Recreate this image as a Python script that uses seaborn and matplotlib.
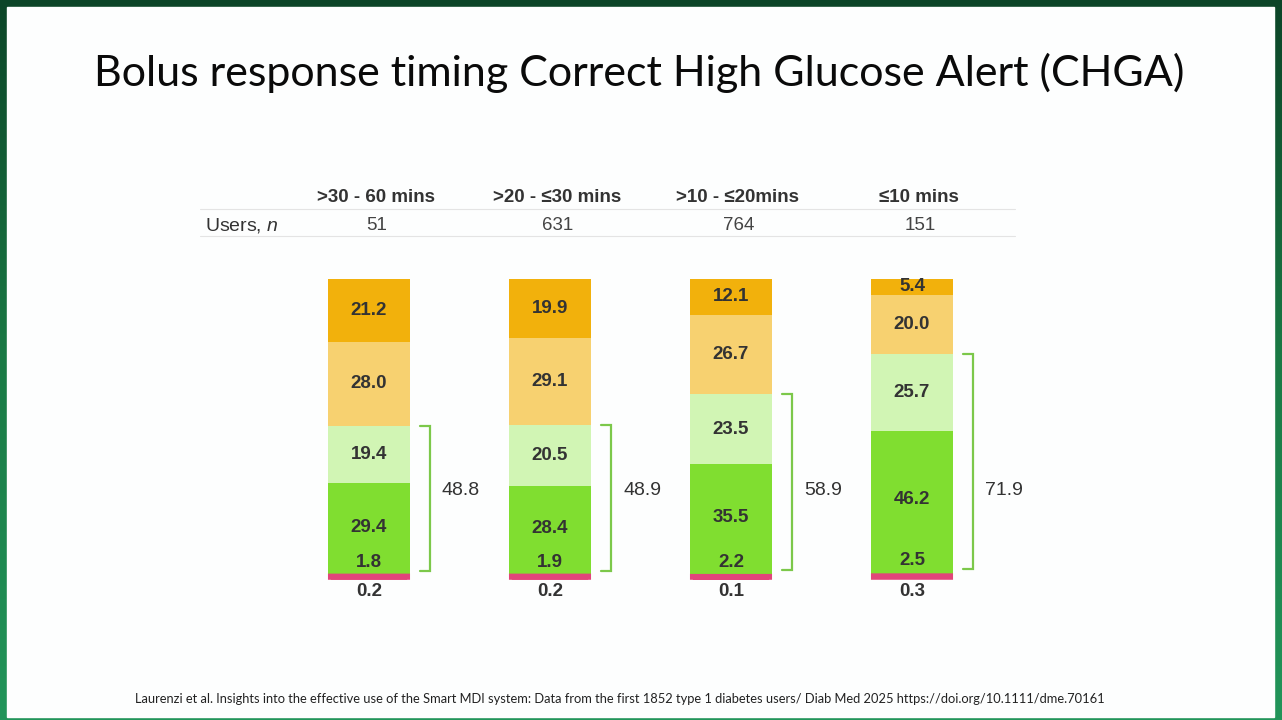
import numpy as np
import matplotlib
matplotlib.use("Agg")
import matplotlib.pyplot as plt
from matplotlib.patches import Rectangle
import seaborn as sns

# Data
groups = [">30 - 60 mins", ">20 - \u226430 mins", ">10 - \u226420mins", "\u226410 mins"]
users = [51, 631, 764, 151]

pct_pink = [0.2, 0.2, 0.1, 0.3]
pct_small = [1.8, 1.9, 2.2, 2.5]
pct_green = [29.4, 28.4, 35.5, 46.2]
pct_light_green = [19.4, 20.5, 23.5, 25.7]
pct_light_orange = [28.0, 29.1, 26.7, 20.0]
pct_orange = [21.2, 19.9, 12.1, 5.4]
bracket_vals = [48.8, 48.9, 58.9, 71.9]

seg_colors = ["#E2457A", "#80DE30", "#80DE30", "#D1F5B4", "#F7D170", "#F2B10C"]

sns.set_style("white")
plt.rcParams["font.family"] = ["Liberation Sans", "DejaVu Sans"]
plt.rcParams["mathtext.fontset"] = "custom"
plt.rcParams["mathtext.it"] = "Liberation Sans:italic"
plt.rcParams["mathtext.rm"] = "Liberation Sans"

W, H = 1282, 720
fig = plt.figure(figsize=(W / 100, H / 100), dpi=100)

# green slide border
bg = fig.add_axes([0, 0, 1, 1])
grad = np.linspace(0, 1, 256).reshape(-1, 1)
cmap = matplotlib.colors.LinearSegmentedColormap.from_list("g", ["#0C4528", "#1A7A45", "#22955A"])
bg.imshow(grad, aspect="auto", cmap=cmap, extent=[0, 1, 0, 1], origin="upper")
bg.add_patch(Rectangle((7 / W, 3 / H), (1274 - 7) / W, (713 - 3) / H, color="#FDFEFE"))
bg.set_xlim(0, 1)
bg.set_ylim(0, 1)
bg.axis("off")

fig.text(639 / W, 1 - 73 / H, "Bolus response timing Correct High Glucose Alert (CHGA)",
         family=["Lato", "DejaVu Sans"], fontsize=31, ha="center", va="center", color="#0A0A0A")
fig.text(620 / W, 1 - 699 / H,
         "Laurenzi et al. Insights into the effective use of the Smart MDI system: Data from the first 1852 type 1 diabetes users/ Diab Med 2025 https://doi.org/10.1111/dme.70161",
         family=["Lato", "DejaVu Sans"], fontsize=9.3, ha="center", va="center", color="#222222")

# chart area
ax = fig.add_axes([200 / W, (720 - 620) / H, 900 / W, 470 / H])
ax.set_facecolor("none")

stack = np.vstack([pct_pink, pct_small, pct_green, pct_light_green, pct_light_orange, pct_orange])
cum = stack.cumsum(axis=0)
bw = 82 / 181

for k in range(len(stack) - 1, 0, -1):
    sns.barplot(x=groups, y=cum[k], color=seg_colors[k], saturation=1, width=bw,
                errorbar=None, linewidth=0, ax=ax, zorder=2)
sns.barplot(x=groups, y=cum[0], color=seg_colors[0], saturation=1, width=bw - 5.5 / 181,
            errorbar=None, edgecolor=seg_colors[0], linewidth=4, snap=False, ax=ax, zorder=3)

txt = dict(ha="center", va="center", fontsize=13.5, fontweight="bold", color="#333333")
for i in range(len(groups)):
    for k in range(2, len(stack)):
        ax.text(i, cum[k][i] - stack[k][i] / 2, f"{stack[k][i]:.1f}", **txt)
    ax.text(i, cum[1][i] + 2.7, f"{stack[1][i]:.1f}", **txt)
    ax.text(i, -5, f"{stack[0][i]:.1f}", **txt)

    # bracket over green + light green
    lo, hi = cum[1][i], cum[3][i]
    x0, x1 = i + 51 / 181, i + 61 / 181
    ax.plot([x0, x1, x1, x0], [hi, hi, lo, lo], color="#7CC84A", lw=1.6, zorder=2,
            solid_joinstyle="miter")
    ax.text(i + 92 / 181, 29, f"{bracket_vals[i]:.1f}", ha="center", va="center",
            fontsize=14, color="#333333")

    # header table
    ax.text(i + 7 / 181, 127.2, groups[i], ha="center", va="center", fontsize=13.5,
            fontweight="bold", color="#333333")
    ax.text(i + 8 / 181, 117.8, str(users[i]), ha="center", va="center", fontsize=13.5,
            color="#444444")

ax.text(-164 / 181, 117.8, r"Users, $\it{n}$", ha="left", va="center", fontsize=14, color="#333333")
for yy in (123.5, 114.4):
    ax.plot([-169 / 181, 646 / 181], [yy, yy], color="#E4E4E4", lw=0.8)

ax.set_xlim(-169 / 181, 731 / 181)
ax.set_ylim(-43 / 2.98, 427 / 2.98)
ax.axis("off")

fig.savefig("out.png", dpi=100)
